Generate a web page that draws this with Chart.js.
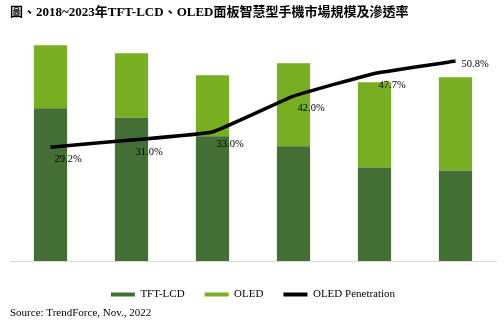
<!DOCTYPE html>
<html>
<head>
<meta charset="utf-8">
<script src="https://cdn.jsdelivr.net/npm/chart.js@4.4.1/dist/chart.umd.min.js"></script>
<style>
  html, body { margin: 0; padding: 0; background: #fff; }
  #wrap { width: 504px; height: 327px; }
</style>
</head>
<body>
<div id="wrap"><canvas id="marketChart"></canvas></div>
<script>
const years = ['2018', '2019', '2020', '2021', '2022(E)', '2023(F)'];
const tftLcd = [991, 930, 810, 745, 607, 587];   // million units
const oled = [409, 418, 395, 538, 553, 605];     // million units
const penetration = [29.2, 31.0, 33.0, 42.0, 47.7, 50.8]; // %

const serif = '"Liberation Serif", "Times New Roman", serif';

// percent labels next to the penetration line
const penetrationLabels = {
  id: 'penetrationLabels',
  afterDatasetsDraw(chart) {
    const meta = chart.getDatasetMeta(2);
    const ctx = chart.ctx;
    ctx.save();
    ctx.font = '10.5px ' + serif;
    ctx.fillStyle = '#000';
    ctx.textAlign = 'left';
    ctx.textBaseline = 'middle';
    meta.data.forEach((pt, i) => {
      const last = i === meta.data.length - 1;
      const dx = last ? 6 : 4;
      const dy = last ? 3 : 12;
      ctx.fillText(penetration[i].toFixed(1) + '%', pt.x + dx, pt.y + dy);
    });
    ctx.restore();
  }
};

const ctx = document.getElementById('marketChart').getContext('2d');
new Chart(ctx, {
  type: 'bar',
  data: {
    labels: years,
    datasets: [
      {
        label: 'TFT-LCD',
        data: tftLcd,
        backgroundColor: '#436f35',
        borderWidth: 0,
        stack: 'units',
        order: 1
      },
      {
        label: 'OLED',
        data: oled,
        backgroundColor: '#77ae22',
        borderWidth: 0,
        stack: 'units',
        order: 1
      },
      {
        type: 'line',
        label: 'OLED Penetration',
        data: penetration,
        yAxisID: 'y1',
        borderColor: '#000',
        backgroundColor: '#000',
        borderWidth: 3.5,
        tension: 0.1,
        pointRadius: 0,
        order: 0
      }
    ]
  },
  options: {
    responsive: true,
    maintainAspectRatio: false,
    animation: false,
    datasets: {
      bar: { barPercentage: 0.41, categoryPercentage: 1 }
    },
    layout: { padding: { left: 10, right: 8, top: 0, bottom: 0 } },
    scales: {
      x: {
        stacked: true,
        grid: { display: false, drawTicks: false },
        border: { display: true, color: '#d9d9d9', width: 1 },
        ticks: { color: '#000', padding: 7, font: { family: serif, size: 11 } },
        afterFit(scale) { scale.height = 8; }
      },
      y: {
        stacked: true,
        display: false,
        min: 0,
        max: 1560
      },
      y1: {
        display: false,
        min: 0.65,
        max: 60.95
      }
    },
    plugins: {
      title: {
        display: true,
        align: 'start',
        text: '圖、2018~2023年TFT-LCD、OLED面板智慧型手機市場規模及滲透率',
        color: '#000',
        font: { family: '"Liberation Serif", "Noto Sans CJK TC", serif', size: 13, weight: 'bold' },
        padding: { top: 5, bottom: 0 }
      },
      subtitle: {
        display: true,
        position: 'bottom',
        align: 'start',
        text: 'Source: TrendForce, Nov., 2022',
        color: '#000',
        font: { family: serif, size: 11 },
        padding: { top: -3.6, bottom: 7.4 }
      },
      legend: {
        position: 'bottom',
        labels: {
          color: '#000',
          font: { family: serif, size: 11 },
          boxWidth: 24,
          boxHeight: 4,
          padding: 20,
          generateLabels(chart) {
            const items = Chart.defaults.plugins.legend.labels.generateLabels(chart);
            items.forEach(item => {
              item.lineWidth = 0;
              if (item.datasetIndex === 2) item.fillStyle = '#000';
            });
            return items.sort((a, b) => a.datasetIndex - b.datasetIndex);
          }
        }
      },
      tooltip: { enabled: false }
    }
  },
  plugins: [penetrationLabels]
});
</script>
</body>
</html>
